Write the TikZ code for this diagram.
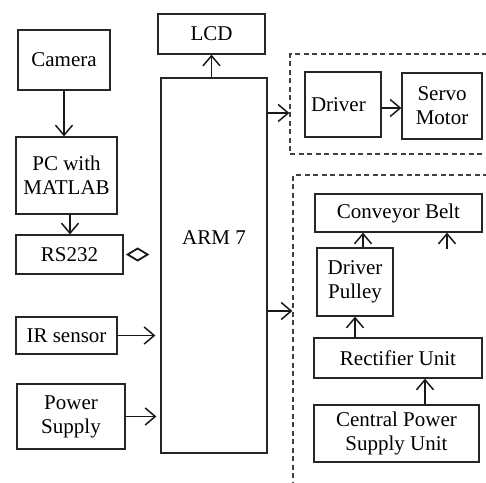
\documentclass[tikz,border=0pt]{standalone}
\usepackage{fontspec}
\setmainfont{Liberation Serif}
\usetikzlibrary{arrows.meta,calc}
\begin{document}
\begin{tikzpicture}[x=1pt,y=-1pt,
  box/.style={draw=black!85,line width=1.3pt,rectangle,inner sep=2pt,align=center,
    font=\fontsize{21}{24}\selectfont},
  grp/.style={draw=black!75,line width=1.3pt,dash pattern=on 5pt off 3.5pt,rectangle,inner sep=0pt},
  arr/.style={draw=black!90,line width=1.4pt,-{Straight Barb[length=10pt,width=17pt,line width=1.5pt]}}]
\clip (0,0) rectangle (486,482);
\fill[white] (0,0) rectangle (486,482);
% left column
\node[box,minimum width=92pt,minimum height=60pt] (cam) at (64,60) {Camera};
\node[box,minimum width=101pt,minimum height=77pt] (pc) at (66.5,175.5) {PC with\\MATLAB};
\node[box,minimum width=107pt,minimum height=39pt] (rs) at (69.5,254.5) {RS232};
\node[box,minimum width=101pt,minimum height=37pt] (ir) at (66.5,335.5) {IR sensor};
\node[box,minimum width=108pt,minimum height=65pt] (pw) at (71,416.5) {Power\\Supply};
% centre
\node[box,minimum width=107pt,minimum height=40pt] (lcd) at (211.5,34) {LCD};
\node[box,minimum width=106pt,minimum height=375pt] (arm) at (214,265.5) {};
\node[font=\fontsize{21}{24}\selectfont] (armt) at (214,238) {ARM 7};
% right groups
\node[grp,minimum width=210pt,minimum height=100pt] (g1) at (395,104) {};
\node[grp,minimum width=207pt,minimum height=325pt] (g2) at (396.5,337.5) {};
\node[box,minimum width=76pt,minimum height=65pt,text width=64pt,align=left] (drv) at (343,104.5) {Driver};
\node[box,minimum width=80pt,minimum height=66pt] (srv) at (442,106) {Servo\\Motor};
\node[box,minimum width=167pt,minimum height=38pt] (cb) at (398.5,213) {Conveyor Belt};
\node[box,minimum width=76pt,minimum height=68pt] (dp) at (355,282) {Driver\\Pulley};
\node[box,minimum width=168pt,minimum height=40pt] (ru) at (398,358) {Rectifier Unit};
\node[box,minimum width=165pt,minimum height=57pt] (cp) at (396.5,433.5) {Central Power\\Supply Unit};
\coordinate (free) at (447,249);
% connectors
\draw[arr] (cam.south) -- (cam.south |- pc.north);
\draw[arr] ([xshift=3.5pt]pc.south) -- ([xshift=3.5pt]pc.south |- rs.north);
\draw[arr] (arm.north -| lcd.south) -- (lcd.south);
\draw[arr,shorten >=5pt] (ir.east) -- (ir.east -| arm.west);
\draw[arr,shorten >=4pt] (pw.east) -- (pw.east -| arm.west);
\draw[draw=black!90,line width=1.8pt,line join=miter] ([xshift=4pt]rs.east) -- ++(10,-6) -- ++(10,6) -- ++(-10,6) -- cycle;
\draw[arr] (arm.east |- 0,113) -- (g1.west |- 0,113);
\draw[arr] (arm.east |- 0,311) -- (g2.west |- 0,311);
\draw[arr] (drv.east |- 0,108) -- (srv.west |- 0,108);
\draw[arr] (dp.north -| 363,0) -- (cb.south -| 363,0);
\draw[arr] (free) -- (cb.south -| free);
\draw[arr] (ru.north -| dp.south) -- (dp.south);
\draw[arr] (cp.north -| 425,0) -- (ru.south -| 425,0);
\end{tikzpicture}
\end{document}
